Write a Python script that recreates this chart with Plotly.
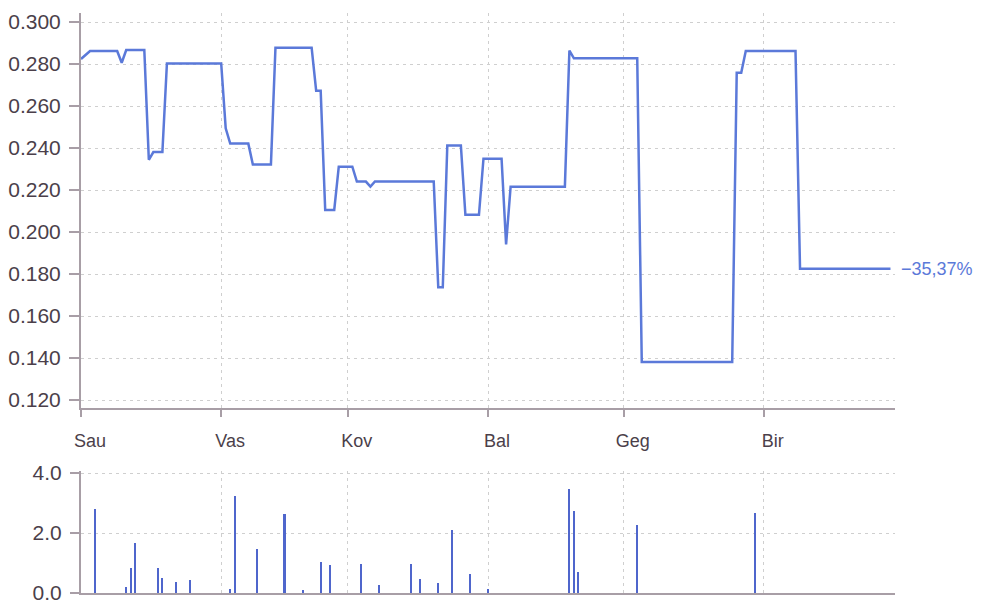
import plotly.graph_objects as go

# ---- data ----
price_dates = [
    "2009-01-01", "2009-01-03", "2009-01-09", "2009-01-10", "2009-01-11", "2009-01-15",
    "2009-01-16", "2009-01-17", "2009-01-19", "2009-01-20", "2009-02-01", "2009-02-02",
    "2009-02-03", "2009-02-07", "2009-02-08", "2009-02-12", "2009-02-13", "2009-02-21",
    "2009-02-22", "2009-02-23", "2009-02-24", "2009-02-26", "2009-02-27", "2009-03-02",
    "2009-03-03", "2009-03-05", "2009-03-06", "2009-03-07", "2009-03-20", "2009-03-21",
    "2009-03-22", "2009-03-23", "2009-03-26", "2009-03-27", "2009-03-30", "2009-03-31",
    "2009-04-04", "2009-04-05", "2009-04-06", "2009-04-18", "2009-04-19", "2009-04-20",
    "2009-05-04", "2009-05-05", "2009-05-25", "2009-05-26", "2009-05-27", "2009-05-28",
    "2009-06-08", "2009-06-09", "2009-06-29",
]
price_values = [
    0.2824, 0.2862, 0.2862, 0.2806, 0.2867, 0.2867,
    0.2344, 0.2381, 0.2381, 0.2803, 0.2803, 0.2494,
    0.2421, 0.2421, 0.2322, 0.2322, 0.2878, 0.2878,
    0.2673, 0.2673, 0.2105, 0.2105, 0.2311, 0.2311,
    0.2240, 0.2240, 0.2216, 0.2241, 0.2241, 0.1737,
    0.1737, 0.2412, 0.2412, 0.2082, 0.2082, 0.2349,
    0.2349, 0.1941, 0.2216, 0.2216, 0.2864, 0.2827,
    0.2827, 0.1381, 0.1381, 0.2759, 0.2759, 0.2862,
    0.2862, 0.1825, 0.1825,
]

volume_dates = [
    "2009-01-04", "2009-01-11", "2009-01-12", "2009-01-13", "2009-01-18", "2009-01-19",
    "2009-01-22", "2009-01-25", "2009-02-03", "2009-02-04", "2009-02-09", "2009-02-15",
    "2009-02-19", "2009-02-23", "2009-02-25", "2009-03-04", "2009-03-08", "2009-03-15",
    "2009-03-17", "2009-03-21", "2009-03-24", "2009-03-28", "2009-04-01", "2009-04-19",
    "2009-04-20", "2009-04-21", "2009-05-04", "2009-05-30",
]
volume_values = [
    2.80, 0.21, 0.82, 1.68, 0.84, 0.49,
    0.36, 0.43, 0.12, 3.23, 1.46, 2.63,
    0.11, 1.04, 0.92, 0.97, 0.26, 0.97,
    0.46, 0.32, 2.10, 0.64, 0.13, 3.47,
    2.74, 0.70, 2.28, 2.68,
]

month_ticks = ["2009-01-01", "2009-02-01", "2009-03-01", "2009-04-01", "2009-05-01", "2009-06-01"]
month_labels = ["Sau", "Vas", "Kov", "Bal", "Geg", "Bir"]

price_ticks = [0.12, 0.14, 0.16, 0.18, 0.20, 0.22, 0.24, 0.26, 0.28, 0.30]
volume_ticks = [0.0, 2.0, 4.0]
change_label = "\u221235,37%"

# ---- style ----
LINE = "#5b79d9"
BAR = "#4f66cc"
AXIS = "#a89ea6"
GRID = "#cfcfcf"
TEXT = "#4b3f4a"
FONT = "Liberation Sans, Arial, sans-serif"

fig = go.Figure()
fig.add_trace(go.Scatter(
    x=price_dates, y=price_values, mode="lines",
    line=dict(color=LINE, width=2.5), xaxis="x", yaxis="y", hoverinfo="skip",
))
fig.add_trace(go.Bar(
    x=volume_dates, y=volume_values, marker=dict(color=BAR, line=dict(width=0)),
    width=[0.45 * 86400000] * len(volume_dates), xaxis="x2", yaxis="y2", hoverinfo="skip",
))

fig.add_annotation(
    x=price_dates[-1], y=price_values[-1], xref="x", yref="y",
    text=change_label, showarrow=False, xanchor="left", yanchor="middle",
    xshift=9, font=dict(family=FONT, size=18, color=LINE),
)

xrange = ["2009-01-01", "2009-06-30"]
common_x = dict(
    type="date", range=xrange, showline=True, linecolor=AXIS, linewidth=2,
    showgrid=True, gridcolor=GRID, griddash="3px,4px", gridwidth=1,
    tickvals=month_ticks, zeroline=False, automargin=False,
)

# page body has an 8px default margin, compensated here
fig.update_layout(
    width=990, height=602,
    margin=dict(l=73, r=103, t=5, b=17, autoexpand=False),
    paper_bgcolor="white", plot_bgcolor="white",
    showlegend=False,
    font=dict(family=FONT, color=TEXT),
    bargap=0,
    xaxis=dict(
        **common_x, domain=[0, 1], anchor="y",
        ticktext=month_labels, ticks="outside", ticklen=7, tickwidth=1.5, tickcolor=AXIS,
        tickfont=dict(size=18, color=TEXT), ticklabelshift=9, ticklabelstandoff=8,
    ),
    yaxis=dict(
        domain=[0.319, 1], anchor="x", range=[0.1162, 0.3043],
        tickvals=price_ticks, tickformat=".3f",
        ticks="outside", ticklen=10, tickwidth=1.5, tickcolor=AXIS,
        showline=True, linecolor=AXIS, linewidth=2,
        showgrid=True, gridcolor=GRID, griddash="3px,4px", gridwidth=1,
        zeroline=False, tickfont=dict(size=21, color=TEXT), ticklabelstandoff=4,
        automargin=False,
    ),
    xaxis2=dict(
        **common_x, domain=[0, 1], anchor="y2", matches="x",
        showticklabels=False, ticks="",
    ),
    yaxis2=dict(
        domain=[0, 0.2103], anchor="x2", range=[0, 4.067],
        tickvals=volume_ticks, tickformat=".1f",
        ticks="outside", ticklen=9, tickwidth=1.5, tickcolor=AXIS,
        showline=True, linecolor=AXIS, linewidth=2,
        showgrid=True, gridcolor=GRID, griddash="3px,4px", gridwidth=1,
        zeroline=False, tickfont=dict(size=21, color=TEXT), ticklabelstandoff=4,
        automargin=False,
    ),
)

fig.write_html("out.html")
